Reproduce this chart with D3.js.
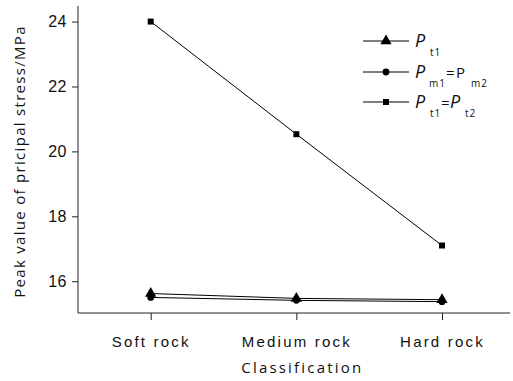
<!DOCTYPE html>
<html>
<head>
<meta charset="utf-8">
<script src="https://cdn.jsdelivr.net/npm/d3@7"></script>
<style>
  body { margin: 0; background: #fff; }
  svg { font-family: "Open Sans", "Liberation Sans", sans-serif; }
</style>
</head>
<body>
<div id="chart"></div>
<script>
// Data
const categories = ["Soft rock", "Medium rock", "Hard rock"];
const pt1 = [15.62, 15.47, 15.43];
const pm1 = [15.50, 15.41, 15.37];
const pt1pt2 = [24.0, 20.53, 17.1];
const yTicks = [16, 18, 20, 22, 24];

const width = 513, height = 381;
const margin = { left: 78, right: 3, top: 6, bottom: 68 };

const svg = d3.select("#chart").append("svg")
  .attr("width", width)
  .attr("height", height);

const x = d3.scalePoint()
  .domain(categories)
  .range([150.7, 442])
  .padding(0);

const y = d3.scaleLinear()
  .domain([15.02, 24.48])
  .range([height - margin.bottom, margin.top]);

// Axes
const yAxis = svg.append("g")
  .attr("transform", `translate(${margin.left},0)`)
  .call(d3.axisLeft(y).tickValues(yTicks).tickSize(6).tickPadding(5));
yAxis.select(".domain").attr("d", `M0,${y(15.02)}V${y(24.48)}`);
yAxis.selectAll("text").attr("font-size", 16).attr("fill", "#111")
  .attr("letter-spacing", "0.5px");

const xAxis = svg.append("g")
  .attr("transform", `translate(0,${y(15.02)})`)
  .call(d3.axisBottom(x).tickSize(7).tickPadding(16));
xAxis.select(".domain").attr("d", `M${margin.left},0H${width - 3}`);
xAxis.selectAll("text").attr("font-size", 15).attr("fill", "#111")
  .attr("letter-spacing", "2.2px");

svg.selectAll(".domain, .tick line").attr("stroke", "#222");

// Axis titles
svg.append("text")
  .attr("transform", `translate(25,${(y(15.02) + y(24.48)) / 2 + 2}) rotate(-90)`)
  .attr("text-anchor", "middle")
  .attr("font-size", 15)
  .attr("letter-spacing", "1.3px")
  .attr("fill", "#111")
  .text("Peak value of pricipal stress/MPa");

svg.append("text")
  .attr("x", x("Medium rock") + 6)
  .attr("y", 373)
  .attr("text-anchor", "middle")
  .attr("font-size", 15)
  .attr("letter-spacing", "2.2px")
  .attr("fill", "#111")
  .text("Classification");

// Series
const series = [
  { values: pt1, symbol: d3.symbolTriangle, size: 55 },
  { values: pm1, symbol: d3.symbolCircle, size: 36 },
  { values: pt1pt2, symbol: d3.symbolSquare, size: 36 }
];

const line = d3.line()
  .x((d, i) => x(categories[i]))
  .y(d => y(d));

series.forEach(s => {
  svg.append("path")
    .datum(s.values)
    .attr("d", line)
    .attr("fill", "none")
    .attr("stroke", "#000")
    .attr("stroke-width", 1);
  svg.selectAll(null)
    .data(s.values)
    .enter().append("path")
    .attr("transform", (d, i) => `translate(${x(categories[i])},${y(d)})`)
    .attr("d", d3.symbol().type(s.symbol).size(s.size))
    .attr("fill", "#000");
});

// Legend: each part is [text, kind, x]; kind i = italic P, s = subscript, n = normal
const legendRows = [
  { y: 41, parts: [["P", "i", 415], ["t1", "s", 430]] },
  { y: 72, parts: [["P", "i", 415], ["m1", "s", 429], ["=", "n", 446], ["P", "n", 456], ["m2", "s", 471]] },
  { y: 102, parts: [["P", "i", 415], ["t1", "s", 430], ["=", "n", 441], ["P", "i", 450], ["t2", "s", 465]] }
];

legendRows.forEach((row, k) => {
  const g = svg.append("g").attr("transform", `translate(0,${row.y})`);
  g.append("line")
    .attr("x1", 363).attr("x2", 409)
    .attr("stroke", "#000").attr("stroke-width", 1);
  g.append("path")
    .attr("transform", "translate(386,0)")
    .attr("d", d3.symbol().type(series[k].symbol).size(series[k].size))
    .attr("fill", "#000");
  row.parts.forEach(([txt, kind, px]) => {
    const t = g.append("text")
      .attr("x", px)
      .attr("fill", "#111")
      .text(txt);
    if (kind === "i") {
      t.attr("y", 6).attr("font-style", "italic").attr("font-size", 18);
    } else if (kind === "s") {
      t.attr("y", 15).attr("font-size", 10).attr("letter-spacing", "1px");
    } else {
      t.attr("y", 6).attr("font-size", 15);
    }
  });
});
</script>
</body>
</html>
